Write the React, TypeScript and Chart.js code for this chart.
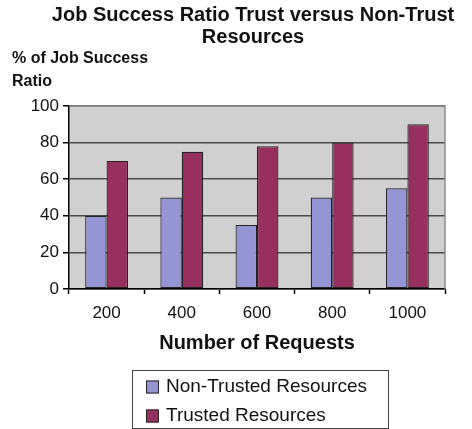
import React, { useEffect, useRef } from "react";
import { Chart, registerables } from "chart.js";

Chart.register(...registerables);

const categories = ["200", "400", "600", "800", "1000"];
const nonTrusted = [40, 50, 35, 50, 55];
const trusted = [70, 75, 78, 80, 90];
const seriesNames = ["Non-Trusted Resources", "Trusted Resources"];
const titleLines = ["Job Success Ratio Trust versus Non-Trust", "Resources"];
const yTitleLines = ["% of Job Success", "Ratio"];
const xTitle = "Number of Requests";

const FONT = "'Liberation Sans', Arial, Helvetica, sans-serif";
const C_NON = "#9595d5";
const C_TR = "#97305f";

export default function App() {
  const ref = useRef<HTMLCanvasElement | null>(null);
  useEffect(() => {
    if (!ref.current) return;
    const deco = {
      id: "deco",
      beforeDraw(chart: any) {
        const { ctx, chartArea: a } = chart;
        ctx.save();
        ctx.fillStyle = "#ffffff";
        ctx.fillRect(0, 0, chart.width, chart.height);
        ctx.fillStyle = "#d0d0d0";
        ctx.fillRect(a.left, a.top, a.right - a.left, a.bottom - a.top);
        ctx.restore();
      },
      beforeDatasetsDraw(chart: any) {
        const { ctx, chartArea: a } = chart;
        ctx.save();
        ctx.strokeStyle = "#8a8a8a";
        ctx.lineWidth = 1.5;
        ctx.beginPath();
        ctx.moveTo(a.left, a.top);
        ctx.lineTo(a.right, a.top);
        ctx.lineTo(a.right, a.bottom);
        ctx.stroke();
        ctx.restore();
      },
      afterDraw(chart: any) {
        const { ctx, chartArea: a } = chart;
        ctx.save();
        ctx.fillStyle = "#111";
        ctx.textBaseline = "middle";
        ctx.textAlign = "center";
        ctx.font = `bold 20px ${FONT}`;
        ctx.fillText(titleLines[0], 253, 15);
        ctx.fillText(titleLines[1], 253, 37);
        ctx.textAlign = "left";
        ctx.font = `bold 16px ${FONT}`;
        ctx.fillText(yTitleLines[0], 12, 59);
        ctx.fillText(yTitleLines[1], 12, 82);
        ctx.textAlign = "center";
        ctx.font = `bold 20px ${FONT}`;
        ctx.fillText(xTitle, (a.left + a.right) / 2, 343);
        // legend
        ctx.strokeStyle = "#444";
        ctx.lineWidth = 1;
        ctx.strokeRect(132.5, 370.5, 256, 58);
        const items = [
          { c: C_NON, t: seriesNames[0], y: 387 },
          { c: C_TR, t: seriesNames[1], y: 416 },
        ];
        ctx.font = `19px ${FONT}`;
        ctx.textAlign = "left";
        for (const it of items) {
          ctx.fillStyle = it.c;
          ctx.fillRect(146, it.y - 6.5, 13, 13);
          ctx.strokeStyle = "#222";
          ctx.strokeRect(146.5, it.y - 6, 12, 12);
          ctx.fillStyle = "#111";
          ctx.fillText(it.t, 166, it.y);
        }
        ctx.restore();
      },
    };
    const chart = new Chart(ref.current, {
      type: "bar",
      data: {
        labels: categories,
        datasets: [
          { label: seriesNames[0], data: nonTrusted, backgroundColor: C_NON, borderColor: "#222", borderWidth: 1.2, borderSkipped: false },
          { label: seriesNames[1], data: trusted, backgroundColor: C_TR, borderColor: "#222", borderWidth: 1.2, borderSkipped: false },
        ],
      },
      options: {
        responsive: false,
        animation: false,
        devicePixelRatio: 1,
        layout: { padding: { top: 106, right: 27, left: 0, bottom: 0 } },
        plugins: { legend: { display: false }, title: { display: false }, tooltip: { enabled: false } },
        datasets: { bar: { categoryPercentage: 0.57, barPercentage: 1 } },
        scales: {
          x: {
            grid: { offset: true, drawOnChartArea: false, drawTicks: true, tickLength: 5, tickColor: "#000", tickWidth: 1.5 },
            border: { color: "#000", width: 1.5 },
            ticks: { font: { family: FONT, size: 17 }, color: "#111", padding: 9 },
            afterFit: (s: any) => { s.height = 140; },
          },
          y: {
            min: 0,
            max: 100,
            grid: { color: "#4a4a4a", lineWidth: 1.5, tickLength: 6, tickColor: "#000" },
            border: { color: "#000", width: 1.5 },
            ticks: { stepSize: 20, font: { family: FONT, size: 17 }, color: "#111", padding: 4 },
            afterFit: (s: any) => { s.width = 69; },
          },
        },
      },
      plugins: [deco],
    } as any);
    return () => chart.destroy();
  }, []);
  return (
    <div style={{ position: "absolute", left: 0, top: 0, width: 472, height: 429 }}>
      <canvas ref={ref} width={472} height={429} style={{ display: "block" }} />
    </div>
  );
}
